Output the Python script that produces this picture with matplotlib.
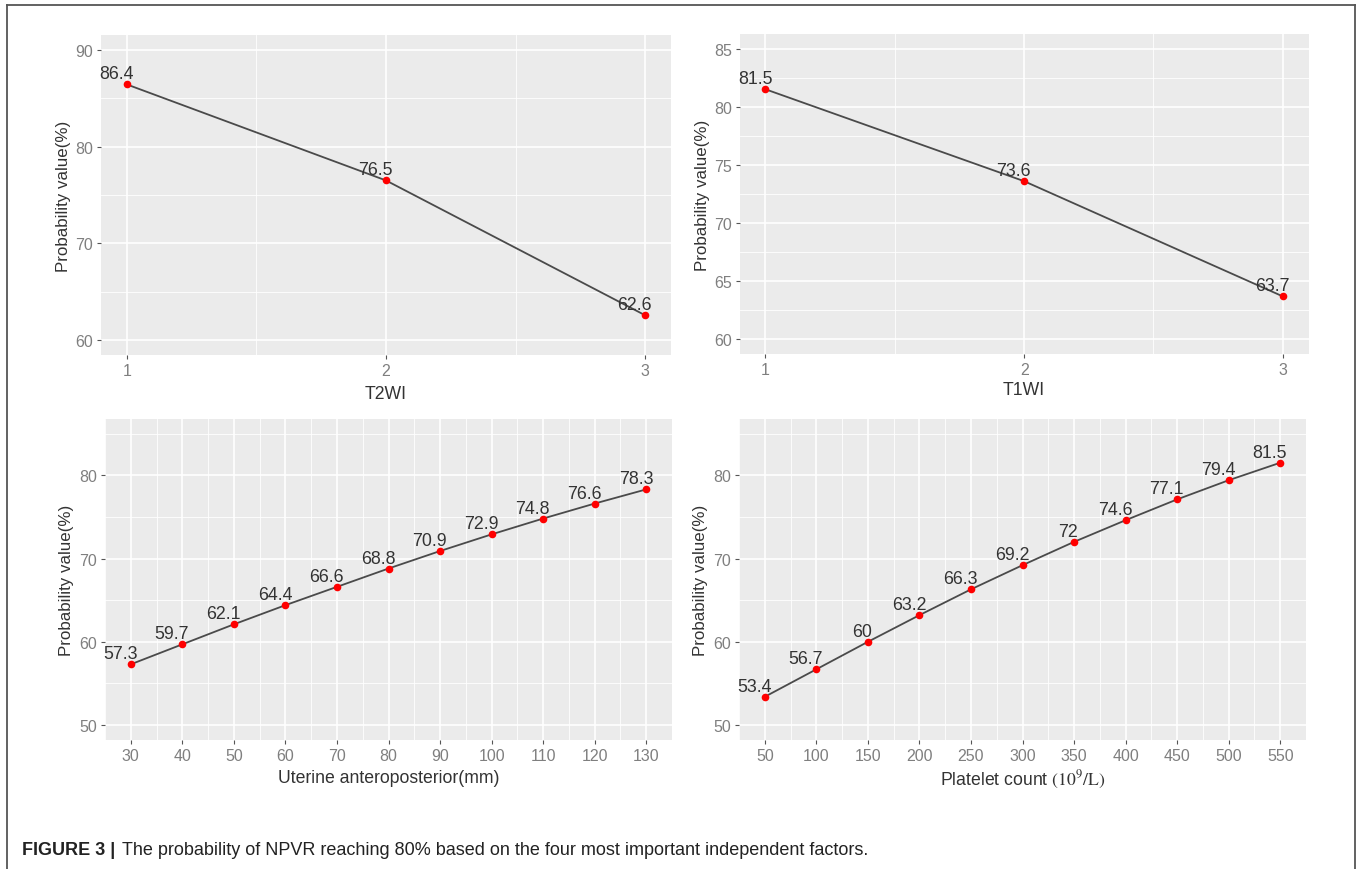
import matplotlib
matplotlib.use("Agg")
import matplotlib.pyplot as plt
from matplotlib.lines import Line2D
from matplotlib.ticker import MultipleLocator

plt.rcParams['mathtext.fontset'] = 'stix'

# ---------------- data ----------------
t2wi_x = [1, 2, 3]
t2wi_y = [86.4, 76.5, 62.6]

t1wi_x = [1, 2, 3]
t1wi_y = [81.5, 73.6, 63.7]

uterine_x = [30, 40, 50, 60, 70, 80, 90, 100, 110, 120, 130]
uterine_y = [57.3, 59.7, 62.1, 64.4, 66.6, 68.8, 70.9, 72.9, 74.8, 76.6, 78.3]

platelet_x = [50, 100, 150, 200, 250, 300, 350, 400, 450, 500, 550]
platelet_y = [53.4, 56.7, 60, 63.2, 66.3, 69.2, 72, 74.6, 77.1, 79.4, 81.5]

ylabel_text = "Probability value(%)"
xlabels = ["T2WI", "T1WI", "Uterine anteroposterior(mm)",
           r"Platelet count $\mathrm{(10^9/L)}$"]
caption_bold = "FIGURE 3 |"
caption_text = "The probability of NPVR reaching 80% based on the four most important independent factors."

# ---------------- figure ----------------
W, H = 1357, 870
fig = plt.figure(figsize=(W / 100, H / 100), dpi=100)

SANS = ['Liberation Sans', 'DejaVu Sans']
PANEL_BG = '#EBEBEB'
TICK_COL = '#7f7f7f'
TITLE_COL = '#333333'


def px_rect(x0, y0, x1, y1):
    return [x0 / W, 1 - y1 / H, (x1 - x0) / W, (y1 - y0) / H]


panels = [
    dict(rect=px_rect(101, 36, 671, 356), x=t2wi_x, y=t2wi_y,
         xlim=(0.9, 3.1), ylim=(58.5, 91.5), xmaj=1, xmin=0.5,
         ymaj=10, ymin=5, xlabel=xlabels[0], ylab_x=-0.053, xlab_y=-0.095),
    dict(rect=px_rect(739.6, 35, 1308.7, 355), x=t1wi_x, y=t1wi_y,
         xlim=(0.9, 3.1), ylim=(58.75, 86.25), xmaj=1, xmin=0.5,
         ymaj=5, ymin=2.5, xlabel=xlabels[1], ylab_x=-0.052, xlab_y=-0.085),
    dict(rect=px_rect(105, 420, 672, 740.7), x=uterine_x, y=uterine_y,
         xlim=(25, 135), ylim=(48.25, 86.75), xmaj=10, xmin=5,
         ymaj=10, ymin=5, xlabel=xlabels[2], ylab_x=-0.055, xlab_y=-0.09),
    dict(rect=px_rect(739, 420, 1306, 740.7), x=platelet_x, y=platelet_y,
         xlim=(25, 575), ylim=(48.25, 86.75), xmaj=50, xmin=25,
         ymaj=10, ymin=5, xlabel=xlabels[3], ylab_x=-0.055, xlab_y=-0.088),
]

annots = []
for p in panels:
    ax = fig.add_axes(p['rect'])
    ax.set_facecolor(PANEL_BG)
    for s in ax.spines.values():
        s.set_visible(False)
    ax.set_xlim(*p['xlim'])
    ax.set_ylim(*p['ylim'])
    ax.xaxis.set_major_locator(MultipleLocator(p['xmaj']))
    ax.xaxis.set_minor_locator(MultipleLocator(p['xmin']))
    ax.yaxis.set_major_locator(MultipleLocator(p['ymaj']))
    ax.yaxis.set_minor_locator(MultipleLocator(p['ymin']))
    ax.grid(which='major', color='white', linewidth=1.2)
    ax.grid(which='minor', color='white', linewidth=0.6)
    ax.set_axisbelow(True)
    ax.tick_params(which='major', length=3.2, width=0.8, color='#555555',
                   pad=2.5, labelsize=11.5, labelcolor=TICK_COL)
    ax.tick_params(which='minor', length=0)
    for lab in ax.get_xticklabels() + ax.get_yticklabels():
        lab.set_family(SANS)

    ax.plot(p['x'], p['y'], color='#4a4a4a', linewidth=1.3, zorder=3)
    ax.plot(p['x'], p['y'], linestyle='none', marker='o', markersize=5.5,
            color='red', markeredgewidth=0, zorder=4)
    for xv, yv in zip(p['x'], p['y']):
        t = ax.annotate(f"{yv:g}", (xv, yv), xytext=(0, 6),
                        textcoords='offset pixels', ha='center', va='baseline',
                        fontsize=12.8, color=TITLE_COL, family=SANS, zorder=5)
        annots.append(t)

    ax.set_ylabel(ylabel_text, fontsize=12.2, color=TITLE_COL, family=SANS)
    ax.yaxis.set_label_coords(p['ylab_x'], 0.5)
    ax.set_xlabel(p['xlabel'], fontsize=12.7, color=TITLE_COL, family=SANS)
    ax.xaxis.set_label_coords(0.5, p['xlab_y'])

# shift labels left (hjust ~0.8 as in the original)
fig.canvas.draw()
renderer = fig.canvas.get_renderer()
for t in annots:
    w = t.get_window_extent(renderer).width
    t.xyann = (-0.3 * w, 6)

# caption
cb = fig.text(21.7 / W, 1 - 855 / H, caption_bold, fontsize=13, fontweight='bold',
              family=SANS, color='#222222', va='baseline', ha='left')
fig.canvas.draw()
bb = cb.get_window_extent(renderer)
fig.text((bb.x1 + 7) / W, 1 - 855 / H, caption_text, fontsize=13,
         family=SANS, color='#222222', va='baseline', ha='left')

# outer frame (no bottom edge visible)
frame_col = '#555555'
fig.add_artist(Line2D([7 / W, 7 / W], [0, 1 - 6 / H], color=frame_col, lw=1.3,
                      transform=fig.transFigure))
fig.add_artist(Line2D([1355 / W, 1355 / W], [0, 1 - 6 / H], color=frame_col, lw=1.3,
                      transform=fig.transFigure))
fig.add_artist(Line2D([7 / W, 1355 / W], [1 - 6 / H, 1 - 6 / H], color=frame_col, lw=1.3,
                      transform=fig.transFigure))

fig.savefig("out.png", dpi=100)
